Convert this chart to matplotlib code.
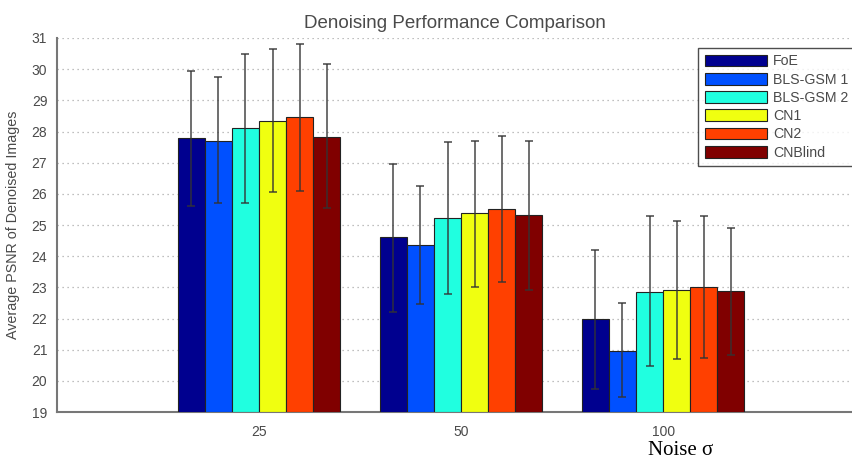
import matplotlib
matplotlib.use("Agg")
import matplotlib.pyplot as plt
import numpy as np

# Data
noise_levels = ["25", "50", "100"]
methods = ["FoE", "BLS-GSM 1", "BLS-GSM 2", "CN1", "CN2", "CNBlind"]
colors = ["#00008F", "#0050FF", "#20FFE0", "#F0FF10", "#FF4000", "#800000"]

# mean PSNR per method (rows) and noise level (columns)
psnr_mean = {
    "FoE":       [27.79, 24.60, 21.97],
    "BLS-GSM 1": [27.71, 24.36, 20.97],
    "BLS-GSM 2": [28.10, 25.22, 22.86],
    "CN1":       [28.34, 25.37, 22.92],
    "CN2":       [28.46, 25.50, 23.00],
    "CNBlind":   [27.83, 25.32, 22.88],
}
# error bar upper ends
psnr_upper = {
    "FoE":       [29.95, 26.96, 24.20],
    "BLS-GSM 1": [29.76, 26.25, 22.49],
    "BLS-GSM 2": [30.50, 27.67, 25.29],
    "CN1":       [30.65, 27.71, 25.14],
    "CN2":       [30.80, 27.86, 25.29],
    "CNBlind":   [30.16, 27.70, 24.91],
}
# error bar lower ends
psnr_lower = {
    "FoE":       [25.60, 22.20, 19.74],
    "BLS-GSM 1": [25.70, 22.47, 19.49],
    "BLS-GSM 2": [25.72, 22.79, 20.48],
    "CN1":       [26.07, 23.02, 20.69],
    "CN2":       [26.09, 23.16, 20.74],
    "CNBlind":   [25.54, 22.92, 20.83],
}

fig = plt.figure(figsize=(8.53, 4.61), dpi=100)
ax = fig.add_axes([57/853, 1-412/461, 1-57/853, (412-38)/461])

x = np.arange(1, len(noise_levels) + 1)
n = len(methods)
bw = 0.134
text_col = "#4a4a4a"

for i, m in enumerate(methods):
    xi = x + (i - (n - 1) / 2) * bw
    mean = np.array(psnr_mean[m])
    lo = mean - np.array(psnr_lower[m])
    hi = np.array(psnr_upper[m]) - mean
    ax.bar(xi, mean - 19, bottom=19, width=bw, color=colors[i], edgecolor="#222222",
           linewidth=0.8, label=m, zorder=3)
    ax.errorbar(xi, mean, yerr=[lo, hi], fmt="none", ecolor="#333333",
                elinewidth=1.1, capsize=3.0, capthick=1.1, zorder=4, alpha=0.9)

ax.set_xlim(0, 3.94)
ax.set_ylim(19, 31)
ax.set_yticks(range(19, 32))
ax.set_xticks(x)
ax.set_xticklabels(noise_levels)
ax.yaxis.grid(True, linestyle=(0, (1, 3)), color="#aaaaaa", linewidth=0.9, zorder=0)
ax.set_axisbelow(True)
for s in ["top", "right"]:
    ax.spines[s].set_visible(False)
for s in ["left", "bottom"]:
    ax.spines[s].set_color("#777777")
    ax.spines[s].set_linewidth(1.5)
ax.tick_params(axis="both", length=0, labelsize=10, labelcolor=text_col,
               labelfontfamily="Liberation Sans")
ax.tick_params(axis="y", pad=7)
ax.tick_params(axis="x", pad=9)

ax.set_title("Denoising Performance Comparison", fontsize=13.5, color=text_col,
             family="Liberation Sans", pad=7)
ax.set_ylabel("Average PSNR of Denoised Images", fontsize=10.3, color=text_col,
              family="Liberation Sans", labelpad=8)

leg = ax.legend(loc="upper right", bbox_to_anchor=(1.002, 0.973),
                frameon=True, fancybox=False, edgecolor="#222222",
                handlelength=4.4, handleheight=0.9, handletextpad=0.4,
                labelspacing=0.3, borderpad=0.45, borderaxespad=0.0,
                prop={"family": "Liberation Sans", "size": 10.2})
leg.get_frame().set_linewidth(1.0)
for t in leg.get_texts():
    t.set_color(text_col)

fig.text(648/853, 1-455/461, "Noise \u03c3", fontsize=15, family="Liberation Serif",
         color="black", ha="left", va="baseline")

fig.savefig("out.png", dpi=100)
